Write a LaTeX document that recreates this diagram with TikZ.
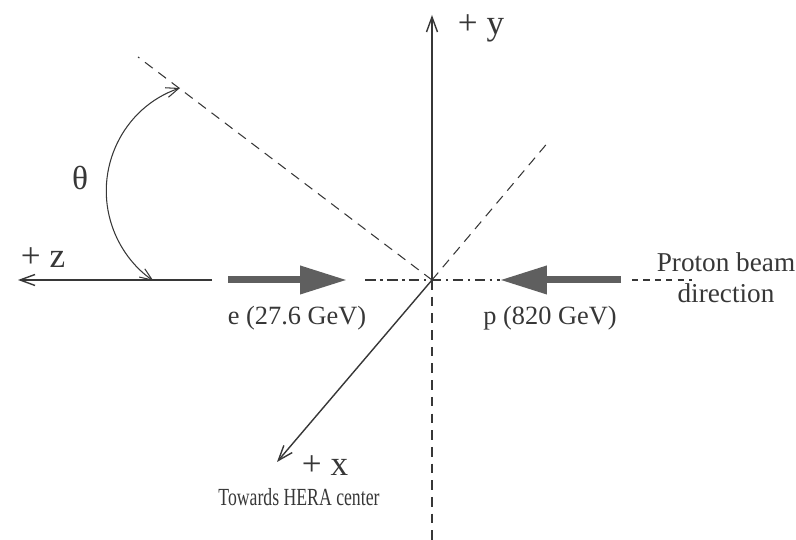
\documentclass[tikz,border=0pt]{standalone}
\usepackage{fontspec}
\setmainfont{Liberation Serif}
\usetikzlibrary{arrows.meta}
\definecolor{inkgray}{RGB}{55,55,55}
\definecolor{beamgray}{RGB}{95,95,95}

\begin{document}
\begin{tikzpicture}[x=0.02cm,y=0.02cm,
  axis/.style={inkgray,line width=0.8pt},
  tip/.style={-{Straight Barb[length=3mm,width=2.2mm]}},
  guide/.style={inkgray,line width=0.6pt,dash pattern=on 5.5pt off 4pt},
  beam/.style={beamgray,line width=0.14cm,-{Triangle[length=0.94cm,width=0.54cm]}},
  lbl/.style={inkgray,font=\fontsize{15}{17}\selectfont},
  axlbl/.style={inkgray,font=\fontsize{20}{22}\selectfont}]
  \useasboundingbox (0,0) rectangle (796,540);
  \coordinate (O) at (432,260);
  \coordinate (ytip) at (432,525);
  \coordinate (ybot) at (432,0);
  \coordinate (ztip) at (18,260);
  \coordinate (zend) at (212,260);
  \coordinate (xtip) at (277,78);
  \coordinate (trk) at (138,483);
  \coordinate (diag) at (550,400);
  % axes
  \draw[axis,tip] (O) -- (ytip);
  \draw[axis,tip] (zend) -- (ztip);
  \draw[axis,tip] (O) -- (xtip);
  \draw[guide] (O) -- (ybot);
  \draw[guide] (O) -- (trk);
  \draw[guide] (O) -- (diag);
  % beam line
  \coordinate (ddL) at (365,260);
  \coordinate (ddR) at (500,260);
  \draw[inkgray,line width=0.6pt,dash pattern=on 6pt off 2.5pt on 1.5pt off 2.5pt] (ddL) -- (ddR);
  \coordinate (pdL) at (632,260);
  \coordinate (pdR) at (692,260);
  \draw[inkgray,line width=0.6pt,dash pattern=on 3.5pt off 3pt] (pdL) -- (pdR);
  \coordinate (eL) at (228,260);
  \coordinate (eR) at (347,260);
  \coordinate (pR) at (621,260);
  \coordinate (pL) at (500,260);
  \draw[beam] (eL) -- (eR);
  \draw[beam] (pR) -- (pL);
  % polar angle
  \coordinate (thA) at (180,452);
  \draw[inkgray,line width=0.6pt,{Straight Barb[length=2.5mm,width=2mm]}-{Straight Barb[length=2.5mm,width=2mm]}]
    (thA) arc[start angle=108.9,end angle=235.4,radius=109];
  \node[inkgray,font=\fontsize{19}{21}\selectfont] (th) at (80,362) {θ};
  % labels
  \node[axlbl] (ylbl) at (481,512) {+ y};
  \node[axlbl] (zlbl) at (43,282) {+ z};
  \node[axlbl] (xlbl) at (325,74) {+ x};
  \node[lbl] (elbl) at (297,222) {e (27.6 GeV)};
  \node[lbl] (plbl) at (550,222) {p (820 GeV)};
  \node[lbl,align=center,font=\fontsize{15.5}{17.5}\selectfont] (dir) at (726,262) {Proton beam\\direction};
  \node[inkgray,transform shape,xscale=0.72,font=\fontsize{14}{16}\selectfont] (hera) at (299,43) {Towards HERA center};
\end{tikzpicture}
\end{document}
